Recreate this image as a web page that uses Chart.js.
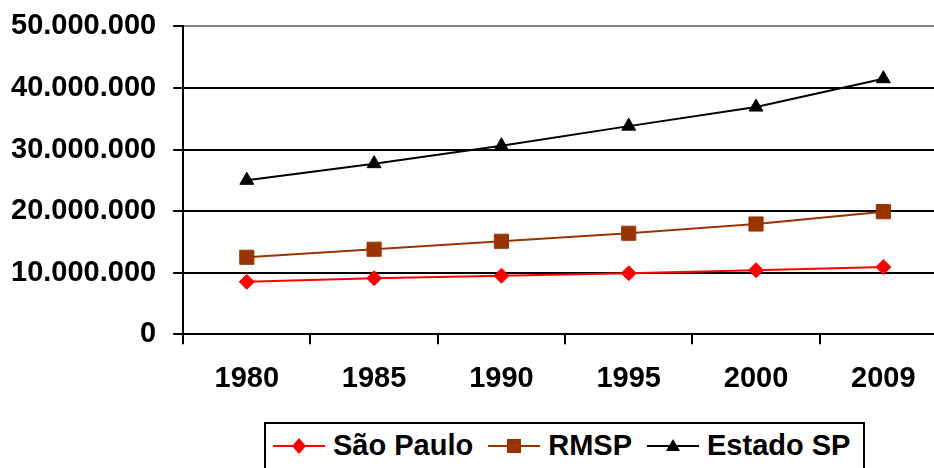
<!DOCTYPE html>
<html lang="pt-BR">
<head>
  <meta charset="UTF-8">
  <title>População - São Paulo, RMSP e Estado</title>
  <script src="https://cdn.jsdelivr.net/npm/chart.js"></script>
  <style>
    html, body {
      margin: 0;
      padding: 0;
      width: 934px;
      height: 468px;
      overflow: hidden;
      background: #fff;
      font-family: 'Liberation Sans', Arial, sans-serif;
    }
    #wrap {
      position: absolute;
      left: -6px;
      top: -8px;
      width: 964px;
      height: 427px;
    }
    #legend {
      position: absolute;
      left: 264px;
      top: 422px;
      height: 60px;
      border: 2px solid #000;
      border-bottom: none;
      padding: 0 13px 0 7px;
      display: flex;
      align-items: flex-start;
      gap: 15px;
      font-weight: bold;
      font-size: 29px;
      color: #000;
    }
    .item {
      display: flex;
      align-items: center;
      height: 43px;
      gap: 8px;
    }
    .item svg { display: block; }
  </style>
</head>
<body>
  <div id="wrap">
    <canvas id="chart" width="964" height="427"></canvas>
  </div>
  <div id="legend"></div>

  <script>
    const years = ['1980', '1985', '1990', '1995', '2000', '2009'];
    const saoPaulo = [8500000, 9100000, 9500000, 9900000, 10400000, 10900000];
    const rmsp = [12500000, 13800000, 15100000, 16400000, 17900000, 19900000];
    const estadoSP = [25000000, 27700000, 30600000, 33800000, 36900000, 41500000];
    const seriesNames = ['São Paulo', 'RMSP', 'Estado SP'];

    const font = { family: "'Liberation Sans', Arial, sans-serif", size: 29, weight: 'bold' };

    function fmt(v) {
      return String(v).replace(/\B(?=(\d{3})+(?!\d))/g, '.');
    }

    const datasets = [
      { label: seriesNames[0], data: saoPaulo, borderColor: '#ff0000', backgroundColor: '#ff0000',
        pointStyle: 'rectRot', pointRadius: 7.5 },
      { label: seriesNames[1], data: rmsp, borderColor: '#993300', backgroundColor: '#993300',
        pointStyle: 'rect', pointRadius: 10 },
      { label: seriesNames[2], data: estadoSP, borderColor: '#000000', backgroundColor: '#000000',
        pointStyle: 'triangle', pointRadius: 8 }
    ].map(d => Object.assign(d, { borderWidth: 2, pointBorderWidth: 1, tension: 0, pointHoverRadius: d.pointRadius }));

    new Chart(document.getElementById('chart'), {
      type: 'line',
      data: { labels: years, datasets: datasets },
      options: {
        responsive: false,
        animation: false,
        layout: { padding: { top: 18, left: 0, right: 0, bottom: 6 } },
        plugins: { legend: { display: false }, tooltip: { enabled: false } },
        scales: {
          x: {
            offset: true,
            grid: { offset: true, drawOnChartArea: false, color: '#000', lineWidth: 2, tickLength: 10 },
            border: { color: '#000', width: 2 },
            ticks: { color: '#000', font: font, padding: 17, maxRotation: 0 }
          },
          y: {
            min: 0,
            max: 50000000,
            grid: {
              color: c => c.tick && c.tick.value === 50000000 ? '#808080' : '#000',
              tickColor: '#000',
              lineWidth: 2,
              tickLength: 10
            },
            border: { color: '#000', width: 2 },
            ticks: { stepSize: 10000000, color: '#000', font: font, padding: 17, callback: v => fmt(v) }
          }
        }
      }
    });

    // legenda em HTML (linha + marcador + nome)
    function markerSvg(ds) {
      const c = ds.borderColor;
      let shape = '';
      if (ds.pointStyle === 'rectRot') shape = `<polygon points="26,2 33,10 26,18 19,10" fill="${c}"/>`;
      else if (ds.pointStyle === 'rect') shape = `<rect x="19" y="3" width="14" height="14" fill="${c}"/>`;
      else shape = `<polygon points="26,3 33,15 19,15" fill="${c}"/>`;
      return `<svg width="52" height="20"><line x1="0" y1="10" x2="52" y2="10" stroke="${c}" stroke-width="2"/>${shape}</svg>`;
    }
    const legend = document.getElementById('legend');
    datasets.forEach(ds => {
      const item = document.createElement('div');
      item.className = 'item';
      item.innerHTML = markerSvg(ds) + `<span>${ds.label}</span>`;
      legend.appendChild(item);
    });
  </script>
</body>
</html>
